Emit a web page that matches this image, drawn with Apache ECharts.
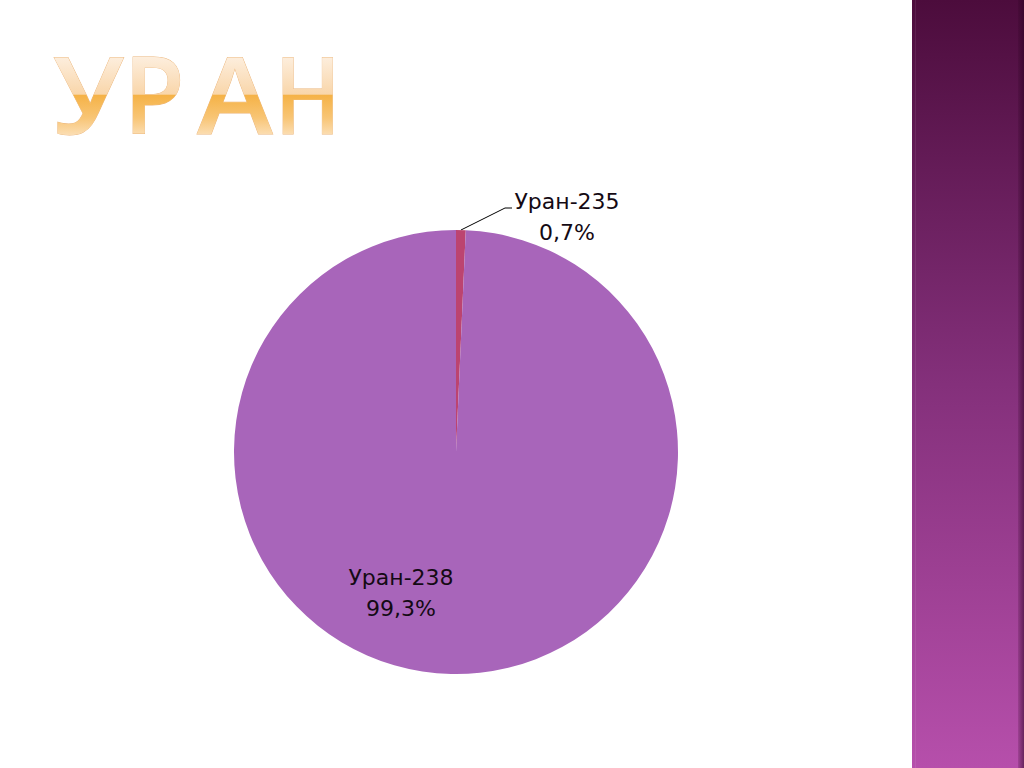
<!DOCTYPE html>
<html>
<head>
<meta charset="utf-8">
<script src="https://cdn.jsdelivr.net/npm/echarts@6/dist/echarts.min.js"></script>
<style>
html,body{margin:0;padding:0;background:#fff;}
#c{width:1024px;height:768px;}
</style>
</head>
<body>
<div id="c"></div>
<script>
const titleText = 'УРАН';
const categories = ['Уран-235', 'Уран-238'];
const values = [0.7, 99.3];
const percentLabels = ['0,7%', '99,3%'];
const sliceColors = ['#BC4470', '#A865BA'];

const chart = echarts.init(document.getElementById('c'), null, {renderer: 'svg'});

// Title letter boxes (ink left, ink right) and cap band
const letterBox = [[54, 124], [133, 180], [197, 273], [283, 333]];
const capTop = 57, baseLine = 138;
const titleWeight = 600;
const titleY = baseLine + 8;

const mctx = document.createElement('canvas').getContext('2d');
const refSize = 100;
mctx.font = titleWeight + ' ' + refSize + 'px "Open Sans"';
const hM = mctx.measureText('Н');
const fontSize = 0.953 * refSize * (baseLine - capTop) / hM.actualBoundingBoxAscent;
mctx.font = titleWeight + ' ' + fontSize + 'px "Open Sans"';

function titleGrad() {
  // global (user-space) gradient in each letter's local coordinates
  return new echarts.graphic.LinearGradient(0, capTop - titleY, 0, baseLine - titleY, [
    {offset: 0, color: '#FDEEDD'},
    {offset: 0.46, color: '#F9D6AA'},
    {offset: 0.47, color: '#F5B246'},
    {offset: 0.75, color: '#F8C575'},
    {offset: 1, color: '#FCE2BE'}
  ], true);
}

const titleLetters = titleText.split('').map((ch, i) => {
  const m = mctx.measureText(ch);
  const inkW = m.actualBoundingBoxLeft + m.actualBoundingBoxRight;
  const sx = (letterBox[i][1] - letterBox[i][0]) / inkW;
  const x = letterBox[i][0] + m.actualBoundingBoxLeft * sx;
  return {
    type: 'text',
    id: 'title_' + i,
    x: x,
    y: titleY,
    scaleX: sx,
    scaleY: 1,
    z: 10,
    style: {
      text: ch,
      x: 0, y: 0,
      fontFamily: 'Open Sans',
      fontWeight: titleWeight,
      fontSize: fontSize,
      verticalAlign: 'bottom',
      fill: '#F8CB8C',
      stroke: '#EBB57A',
      lineWidth: 0.8
    }
  };
});

const option = {
  backgroundColor: '#ffffff',
  animation: false,
  graphic: [
    {
      type: 'rect', x: 912, y: 0, z: 0,
      shape: {width: 112, height: 768},
      style: {fill: new echarts.graphic.LinearGradient(0, 0, 0, 1, [
        {offset: 0, color: '#4C0C3C'},
        {offset: 0.5, color: '#84307B'},
        {offset: 1, color: '#B64FAB'}
      ])}
    },
    {
      type: 'rect', x: 1018, y: 0, z: 1,
      shape: {width: 6, height: 768},
      style: {fill: new echarts.graphic.LinearGradient(0, 0, 1, 0, [
        {offset: 0, color: 'rgba(40,0,30,0.15)'},
        {offset: 1, color: 'rgba(40,0,30,0.55)'}
      ])}
    },
    {
      type: 'rect', x: 915, y: 0, z: 1,
      shape: {width: 1, height: 768},
      style: {fill: 'rgba(255,255,255,0.08)'}
    },
    ...titleLetters
  ],
  series: [{
    type: 'pie',
    center: [456, 452],
    radius: 222,
    startAngle: 90,
    clockwise: true,
    avoidLabelOverlap: false,
    itemStyle: {borderWidth: 0},
    label: {
      color: '#140a14',
      fontFamily: 'DejaVu Sans',
      fontSize: 22,
      lineHeight: 31,
      align: 'center',
      formatter: p => p.name + '\n' + percentLabels[p.dataIndex]
    },
    labelLine: {
      show: true,
      length: 18,
      length2: 8,
      smooth: false,
      lineStyle: {color: '#000', width: 1}
    },
    labelLayout: function (params) {
      if (params.dataIndex === 0) {
        const p0 = params.labelLinePoints ? params.labelLinePoints[0] : [461, 230];
        return {
          x: 567, y: 216.5, align: 'center', verticalAlign: 'middle',
          labelLinePoints: [p0, [505, 208], [512, 208]]
        };
      }
      return {x: 401, y: 593, align: 'center', verticalAlign: 'middle'};
    },
    data: categories.map((c, i) => ({
      name: c,
      value: values[i],
      itemStyle: {color: sliceColors[i]},
      label: {position: i === 0 ? 'outside' : 'inside'},
      labelLine: {show: i === 0}
    }))
  }]
};
chart.setOption(option);

// zrender's Text element replaces gradient fills with black, so apply the
// gradient directly on the rendered text spans of the title letters.
try {
  const zr = chart.getZr();
  const list = zr.storage.getDisplayList(true);
  const letters = titleText.split('');
  list.forEach(el => {
    if (el && el.style && typeof el.style.text === 'string' &&
        letters.indexOf(el.style.text) >= 0 && el.style.font && el.style.font.indexOf('Open Sans') >= 0) {
      el.style.fill = titleGrad();
      el.dirtyStyle ? el.dirtyStyle() : el.dirty();
    }
  });
  zr.refreshImmediately();
} catch (e) { console.error(e); }
</script>
</body>
</html>
